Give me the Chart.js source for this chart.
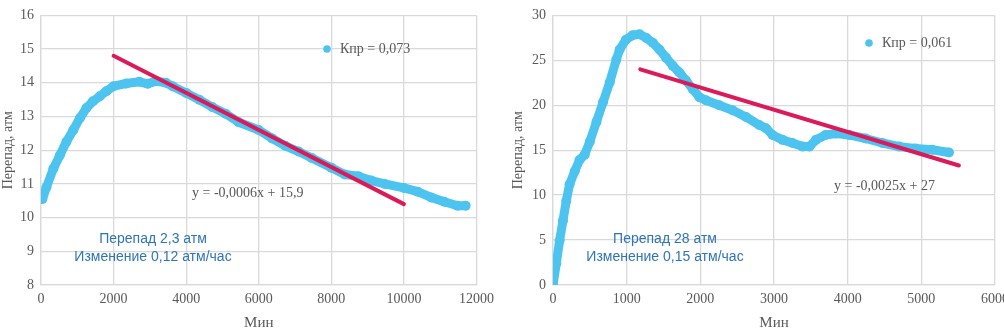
<!DOCTYPE html>
<html>
<head>
<meta charset="utf-8">
<script src="https://cdn.jsdelivr.net/npm/chart.js@4.4.1/dist/chart.umd.min.js"></script>
<style>
html,body{margin:0;padding:0;background:#fff;overflow:hidden;width:1004px;height:335px;}
#w1{position:absolute;left:0;top:0;width:500px;height:335px;}
#w2{position:absolute;left:500px;top:0;width:540px;height:335px;}
</style>
</head>
<body>
<div id="w1"><canvas id="c1"></canvas></div>
<div id="w2"><canvas id="c2"></canvas></div>
<script>
// ---- Chart 1 data ----
const leftX = [40, 150, 340, 520, 700, 890, 1070, 1250, 1430, 1620, 1800, 2000, 2350, 2710, 2940, 3170, 3440, 3625, 4000, 4360, 4720, 5090, 5450, 6000, 6370, 6730, 7100, 7460, 8000, 8370, 8740, 9100, 9470, 10000, 10380, 10750, 11110, 11480, 11700];
const leftY = [10.55, 10.9, 11.45, 11.85, 12.25, 12.6, 12.95, 13.25, 13.45, 13.6, 13.75, 13.9, 13.98, 14.03, 13.97, 14.05, 14.0, 13.9, 13.7, 13.5, 13.28, 13.08, 12.83, 12.6, 12.35, 12.13, 11.96, 11.77, 11.48, 11.28, 11.23, 11.1, 11.0, 10.88, 10.77, 10.6, 10.47, 10.35, 10.35];
const leftTrendX = [2000, 10000];
const leftTrendY = [14.8, 10.4];
const leftLegend = "Кпр = 0,073";
const leftEquation = "y = -0,0006x + 15,9";
const leftNote = ["Перепад 2,3 атм", "Изменение 0,12 атм/час"];

// ---- Chart 2 data ----
const rightX = [0, 45, 90, 135, 180, 225, 295, 360, 430, 500, 590, 680, 770, 860, 905, 990, 1080, 1175, 1265, 1355, 1445, 1535, 1625, 1716, 1806, 1897, 1987, 2077, 2257, 2438, 2620, 2800, 2890, 2980, 3116, 3250, 3390, 3480, 3570, 3700, 3840, 4020, 4245, 4470, 4700, 4920, 5150, 5375];
const rightY = [0, 2.4, 4.95, 7.15, 9.35, 11.2, 12.65, 13.9, 14.5, 15.95, 18.15, 20.35, 22.55, 25.1, 26.2, 27.3, 27.8, 27.9, 27.5, 26.95, 26.2, 25.3, 24.4, 23.65, 22.75, 21.8, 20.9, 20.55, 20.0, 19.45, 18.7, 17.8, 17.45, 16.7, 16.15, 15.8, 15.4, 15.4, 16.15, 16.7, 16.85, 16.7, 16.3, 15.8, 15.4, 15.2, 15.05, 14.75];
const rightTrendX = [1185, 5510];
const rightTrendY = [24.0, 13.3];
const rightLegend = "Кпр = 0,061";
const rightEquation = "y = -0,0025x + 27";
const rightNote = ["Перепад 28 атм", "Изменение 0,15 атм/час"];

const axisTitleY = "Перепад, атм";
const axisTitleX = "Мин";

const SERIF = "'Liberation Serif', 'Times New Roman', serif";
const SANS = "'Liberation Sans', Arial, sans-serif";
const GRAY = '#595959';
const GRID = '#d9d9d9';
const BLUE_PT = '#4DC4F0';
const RED = '#DC1A5A';
const NOTE = '#2E75B6';

function zip(xs, ys){ return xs.map((x,i)=>({x:x, y:ys[i]})); }

const annot = {
  id: 'annot',
  afterDatasetsDraw(chart, args, o) {
    const ctx = chart.ctx;
    ctx.save();
    // legend
    ctx.fillStyle = BLUE_PT;
    ctx.beginPath(); ctx.arc(o.legX, o.legY, 3.8, 0, Math.PI*2); ctx.fill();
    ctx.fillStyle = GRAY;
    ctx.font = '14px ' + SERIF;
    ctx.textBaseline = 'middle';
    ctx.textAlign = 'left';
    ctx.fillText(o.legend, o.legX + 13, o.legY);
    // equation
    ctx.fillText(o.eq, o.eqX, o.eqY);
    // note
    ctx.fillStyle = NOTE;
    ctx.font = '14px ' + SANS;
    ctx.textAlign = 'center';
    ctx.fillText(o.note[0], o.noteX, o.noteY);
    ctx.fillText(o.note[1], o.noteX, o.noteY + 18);
    ctx.restore();
  }
};

function makeChart(id, cfg) {
  return new Chart(document.getElementById(id), {
    type: 'scatter',
    data: {
      datasets: [
        { data: zip(cfg.tx, cfg.ty), showLine: true, borderColor: RED, borderWidth: 4,
          pointRadius: 0, borderCapStyle: 'round', order: 0 },
        { data: zip(cfg.x, cfg.y), showLine: true, borderColor: BLUE_PT, backgroundColor: BLUE_PT,
          borderWidth: 9, borderJoinStyle: 'round', borderCapStyle: 'round',
          pointRadius: 5, pointBorderWidth: 0, order: 1 }
      ]
    },
    options: {
      responsive: true, maintainAspectRatio: false, animation: false,
      layout: { padding: { left: 0, top: 12, right: cfg.padRight, bottom: 0 } },
      plugins: { legend: { display: false }, tooltip: { enabled: false }, annot: cfg.annot },
      scales: {
        x: {
          type: 'linear', min: cfg.xmin, max: cfg.xmax,
          ticks: { stepSize: cfg.xstep, color: GRAY, font: { family: SERIF, size: 14 }, padding: 6,
                   maxRotation: 0, callback: v => String(v) },
          grid: { color: GRID, lineWidth: 1.3, drawTicks: false },
          border: { color: GRID, width: 1.3 },
          title: { display: true, text: axisTitleX, color: GRAY, font: { family: SERIF, size: 15 }, padding: { top: 0, bottom: 3 } },
          afterFit: s => { s.height = 50; }
        },
        y: {
          type: 'linear', min: cfg.ymin, max: cfg.ymax,
          ticks: { stepSize: cfg.ystep, color: GRAY, font: { family: SERIF, size: 14 }, padding: 7,
                   callback: v => String(v) },
          grid: { color: GRID, lineWidth: 1.3, drawTicks: false },
          border: { color: GRID, width: 1.3 },
          title: { display: true, text: axisTitleY, color: GRAY, font: { family: SERIF, size: 14 }, padding: { top: cfg.ytitlePad, bottom: 0 } },
          afterFit: s => { s.width = cfg.yw; }
        }
      }
    },
    plugins: [annot]
  });
}

makeChart('c1', {
  x: leftX, y: leftY, tx: leftTrendX, ty: leftTrendY,
  xmin: 0, xmax: 12000, xstep: 2000, ymin: 8, ymax: 16, ystep: 1,
  yw: 41, padRight: 21, ytitlePad: 0,
  annot: { legend: leftLegend, legX: 327, legY: 49, eq: leftEquation, eqX: 192, eqY: 193,
           note: leftNote, noteX: 153, noteY: 239 }
});

makeChart('c2', {
  x: rightX, y: rightY, tx: rightTrendX, ty: rightTrendY,
  xmin: 0, xmax: 6000, xstep: 1000, ymin: 0, ymax: 30, ystep: 5,
  yw: 53, padRight: 45, ytitlePad: 10,
  annot: { legend: rightLegend, legX: 369, legY: 43, eq: rightEquation, eqX: 334, eqY: 186,
           note: rightNote, noteX: 165, noteY: 239 }
});
</script>
</body>
</html>
